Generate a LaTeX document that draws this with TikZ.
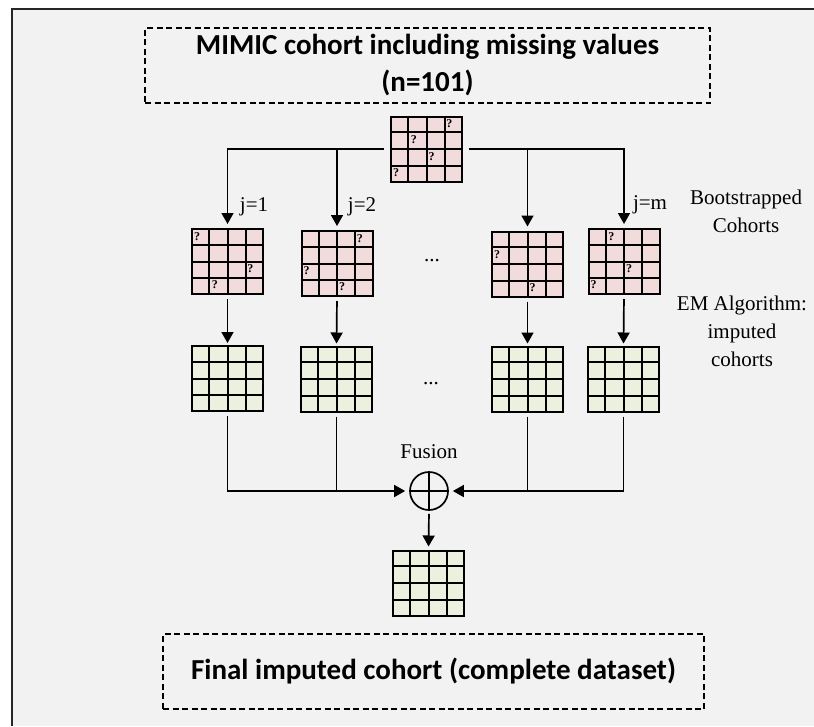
\documentclass[tikz,border=0pt]{standalone}
\usepackage{fontspec}
\setmainfont{Liberation Serif}
\newfontfamily\titlefont{Carlito}
\usetikzlibrary{arrows.meta,calc}
\definecolor{bgc}{HTML}{F2F2F2}
\definecolor{pinkc}{HTML}{F2DCDB}
\definecolor{greenc}{HTML}{EBF1DE}
\newcommand{\gridlines}[1]{%
  \foreach \i in {1,2,3}{%
    \draw[gline] ($(#1.north west)!\i/4!(#1.north east)$) -- ($(#1.south west)!\i/4!(#1.south east)$);
    \draw[gline] ($(#1.north west)!\i/4!(#1.south west)$) -- ($(#1.north east)!\i/4!(#1.south east)$);
  }}
\newcommand{\qm}[3]{\node[qmark] at ($(#1.north west)+({(#2-1)*17.75+6},{(#3-0.5)*16.25})$) {?};}
\tikzset{
  gline/.style={line width=2pt, black},
  cohortbox/.style={draw=black, line width=2pt, minimum width=71pt, minimum height=65pt, inner sep=0pt},
  pinkbox/.style={cohortbox, fill=pinkc},
  greenbox/.style={cohortbox, fill=greenc},
  qmark/.style={font=\bfseries\fontsize{12}{12}\selectfont, inner sep=0pt},
  conn/.style={line width=1.7pt, black},
  arr/.style={conn, -{Triangle[length=11pt,width=12pt]}},
  lbl/.style={font=\fontsize{21}{28}\selectfont, inner sep=0pt, align=center},
  titlebox/.style={draw=black, line width=1.5pt, dash pattern=on 6pt off 3.5pt, inner sep=0pt, align=center,
    font=\titlefont\bfseries\fontsize{29}{37}\selectfont},
}
\begin{document}
\begin{tikzpicture}[x=1pt,y=-1pt]
\useasboundingbox (0,0) rectangle (814,726);
\fill[white] (0,0) rectangle (814,726);
\fill[bgc] (12,9) rectangle (814,726);
\draw[line width=2pt, black!85] (12,726) -- (12,9) -- (814,9);

% title boxes
\node[titlebox, minimum width=565pt, minimum height=75pt] (title) at (427.5,65.5)
  {MIMIC cohort including missing values\\(n=101)};
\node[titlebox, minimum width=541pt, minimum height=75pt] (final) at (433.5,671.5)
  {Final imputed cohort (complete dataset)};

% grids
\node[pinkbox] (top) at (426.5,149) {};
\node[pinkbox] (p1) at (227.5,261.5) {};
\node[pinkbox] (p2) at (337,263.5) {};
\node[pinkbox] (p3) at (527.5,264) {};
\node[pinkbox] (p4) at (624,261.5) {};
\node[greenbox] (q1) at (227.5,378.5) {};
\node[greenbox] (q2) at (336.5,379) {};
\node[greenbox] (q3) at (527.5,379) {};
\node[greenbox] (q4) at (623.5,379) {};
\node[greenbox] (res) at (428.5,583) {};
\foreach \g in {top,p1,p2,p3,p4,q1,q2,q3,q4,res}{\gridlines{\g}}

\qm{top}{4}{1}\qm{top}{2}{2}\qm{top}{3}{3}\qm{top}{1}{4}
\qm{p1}{1}{1}\qm{p1}{4}{3}\qm{p1}{2}{4}
\qm{p2}{4}{1}\qm{p2}{1}{3}\qm{p2}{3}{4}
\qm{p3}{1}{2}\qm{p3}{3}{4}
\qm{p4}{2}{1}\qm{p4}{3}{3}\qm{p4}{1}{4}

% fusion
\node[circle, draw=black, line width=1.7pt, minimum size=38pt, inner sep=0pt] (fus) at (429,491) {};
\draw[conn] (fus.north) -- (fus.south);
\draw[conn] (fus.west) -- (fus.east);
\node[lbl] (fuslbl) at (429,452) {Fusion};

% split connectors
\coordinate (tl) at ($(top.west)+(-6,0)$);
\coordinate (tr) at ($(top.east)+(6,0)$);
\draw[arr, shorten >=4pt] (tl) -| (p1.north);
\draw[arr, shorten >=4pt] (p2.north |- tl) -- (p2.north);
\draw[arr, shorten >=4pt] (tr) -| (p4.north);
\draw[arr, shorten >=4pt] (p3.north |- tr) -- (p3.north);

% pink to green
\foreach \a/\b in {p1/q1,p2/q2,p3/q3,p4/q4}{
  \draw[arr, shorten <=4pt, shorten >=2pt] (\a.south) -- (\b.north);
}

% green to fusion
\draw[arr, shorten <=4pt, shorten >=4pt] (q1.south) |- (fus.west);
\draw[conn, shorten <=4pt] (q2.south) -- (q2.south |- fus.west);
\draw[arr, shorten <=4pt, shorten >=4pt] (q4.south) |- (fus.east);
\draw[conn, shorten <=4pt] (q3.south) -- (q3.south |- fus.east);
\draw[arr, shorten <=3pt, shorten >=3pt] (fus.south) -- (res.north);

% labels
\node[lbl] (j1) at (254,207) {j=1};
\node[lbl] (j2) at (362,207) {j=2};
\node[lbl] (jm) at (650,205) {j=m};
\node[lbl] (dots1) at (432,261) {...};
\node[lbl] (dots2) at (431,384) {...};
\node[lbl] (boot) at (746,211) {Bootstrapped\\Cohorts};
\node[lbl] (em) at (742,331.5) {EM Algorithm:\\imputed\\cohorts};
\end{tikzpicture}
\end{document}
